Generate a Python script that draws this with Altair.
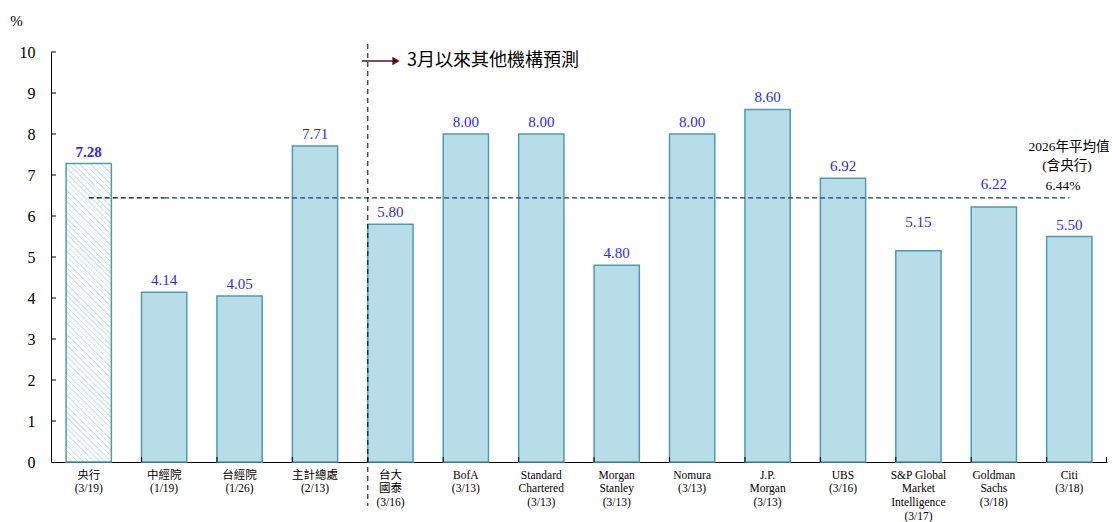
import altair as alt
import pandas as pd

categories = [
    "央行|(3/19)", "中經院|(1/19)", "台經院|(1/26)", "主計總處|(2/13)",
    "台大|國泰|(3/16)", "BofA|(3/13)", "Standard|Chartered|(3/13)",
    "Morgan|Stanley|(3/13)", "Nomura|(3/13)", "J.P.|Morgan|(3/13)",
    "UBS|(3/16)", "S&P Global|Market|Intelligence|(3/17)",
    "Goldman|Sachs|(3/18)", "Citi|(3/18)",
]
values = [7.28, 4.14, 4.05, 7.71, 5.80, 8.00, 8.00, 4.80, 8.00, 8.60, 6.92, 5.15, 6.22, 5.50]
labels = ["7.28", "4.14", "4.05", "7.71", "5.80", "8.00", "8.00", "4.80", "8.00", "8.60", "6.92", "5.15", "6.22", "5.50"]
average = 6.44
y_ticks = [1, 2, 3, 4, 5, 6, 7, 8, 9, 10]
note_lines = ["2026年平均值", "(含央行)", "6.44%"]
arrow_text = "3月以來其他機構預測"

W, H = 1056, 410
SERIF = "Liberation Serif, Noto Sans CJK TC"
CJK = "Noto Sans CJK TC, Liberation Serif"
FILL = "#b7dde8"
EDGE = "#4f9cb1"
BLUE = "#2a2aff"

df = pd.DataFrame({"cat": categories, "value": values, "label": labels})

xscale = alt.Scale(domain=categories, paddingInner=0.4, paddingOuter=0.2)
yscale = alt.Scale(domain=[0, 10])

x_main = alt.X("cat:N", sort=None, scale=xscale,
               axis=alt.Axis(title=None, labelAngle=0, ticks=False, domainColor="black",
                             labelExpr="split(datum.label, '|')", labelFont=SERIF,
                             labelFontSize=11.5, labelColor="black", labelBaseline="top",
                             labelLineHeight=13.8, labelPadding=7, labelLimit=200))
y_main = alt.Y("value:Q", scale=yscale,
               axis=alt.Axis(title="%", titleAngle=0, titleX=-35, titleY=-32,
                             titleAlign="center", titleBaseline="middle", titleFont=SERIF,
                             titleFontSize=15, titleFontWeight="normal", titleColor="black",
                             values=[0, 1, 2, 3, 4, 5, 6, 7, 8, 9, 10], ticks=False,
                             grid=False, domainColor="black", labelFont=SERIF,
                             labelFontSize=16, labelColor="black", labelPadding=16))

# hatched gradient for the first (central bank) bar
w_bar, h_bar = 45.2, 7.28 * 41.0
k = (w_bar + h_bar) / (w_bar ** 2 + h_bar ** 2)
n = 62
stops = []
for i in range(n):
    stops += [alt.GradientStop(offset=i / n, color="#d2ebf2"),
              alt.GradientStop(offset=(i + 0.3) / n, color="#d2ebf2"),
              alt.GradientStop(offset=(i + 0.3) / n, color="#ffffff"),
              alt.GradientStop(offset=(i + 1) / n, color="#ffffff")]
hatch = alt.Gradient(gradient="linear", stops=stops, x1=0, y1=1,
                     x2=w_bar * k, y2=1 - h_bar * k)

base = alt.Chart(df)

bars = base.transform_filter(alt.datum.cat != categories[0]).mark_bar(
    fill=FILL, stroke=EDGE, strokeWidth=1.5
).encode(x=x_main, y=y_main)

bar0 = base.transform_filter(alt.datum.cat == categories[0]).mark_bar(
    fill=hatch, stroke=EDGE, strokeWidth=1.5
).encode(x=alt.X("cat:N", sort=None, scale=xscale), y=alt.Y("value:Q", scale=yscale))

def lbl(filt, dy, bold=False):
    return base.transform_filter(filt).mark_text(
        baseline="middle", dy=dy, font=SERIF, fontSize=15, color=BLUE,
        fontWeight="bold" if bold else "normal"
    ).encode(x=alt.X("cat:N", sort=None, scale=xscale),
             y=alt.Y("value:Q", scale=yscale), text="label:N")

lbl_first = lbl(alt.datum.cat == categories[0], -12, bold=True)
lbl_rest = lbl(alt.FieldOneOfPredicate(field="cat", oneOf=categories[1:11] + [categories[13]]), -12)
lbl_515 = lbl(alt.datum.cat == categories[11], -29)
lbl_622 = lbl(alt.datum.cat == categories[12], -23)

avg_a = alt.Chart(pd.DataFrame({"cat": categories[0:2], "value": [average] * 2})).mark_line(
    color="black", strokeDash=[5, 3], strokeWidth=1.3
).encode(x=alt.X("cat:N", sort=None, scale=xscale), y=alt.Y("value:Q", scale=yscale))
avg_b = alt.Chart(pd.DataFrame({"cat": [categories[1], categories[13]], "value": [average] * 2})).mark_line(
    color="#1f3a78", strokeDash=[5, 3], strokeWidth=1.3
).encode(x=alt.X("cat:N", sort=None, scale=xscale), y=alt.Y("value:Q", scale=yscale))

sep = alt.Chart(pd.DataFrame({"cat": [categories[4]]})).mark_rule(
    color="black", strokeDash=[5, 4], strokeWidth=1
).encode(x=alt.X("cat:N", sort=None, scale=xscale, bandPosition=0),
         y=alt.value(-8), y2=alt.value(H + 44))

ytick = alt.Chart(pd.DataFrame({"t": y_ticks})).mark_rule(color="black", strokeWidth=1).encode(
    y=alt.Y("t:Q", scale=yscale), x=alt.value(0), x2=alt.value(5))
xtick = alt.Chart(pd.DataFrame({"cat": categories[1:]})).mark_rule(color="black", strokeWidth=1).encode(
    x=alt.X("cat:N", sort=None, scale=xscale, bandPosition=0), y=alt.value(H), y2=alt.value(H - 5))
xtick_end = alt.Chart(pd.DataFrame({"a": [0]})).mark_rule(color="black", strokeWidth=1).encode(
    x=alt.value(W - 0.5), y=alt.value(H), y2=alt.value(H - 5))

arrow_line = alt.Chart(pd.DataFrame({"a": [0]})).mark_rule(color="#5c1010", strokeWidth=1.5).encode(
    x=alt.value(311), x2=alt.value(342), y=alt.value(9))
arrow_head = alt.Chart(pd.DataFrame({"a": [0]})).mark_point(
    shape="triangle-right", filled=True, color="#5c1010", size=70, opacity=1
).encode(x=alt.value(345), y=alt.value(9))
arrow_lbl = alt.Chart(pd.DataFrame({"t": [arrow_text]})).mark_text(
    align="left", baseline="middle", font=CJK, fontSize=18, color="black"
).encode(x=alt.value(356), y=alt.value(9), text="t:N")

note = alt.Chart(pd.DataFrame({"t": note_lines, "yy": [95, 114, 134], "xx": [1018, 1016, 1012]})).mark_text(
    align="center", baseline="middle", font=SERIF, fontSize=13.5, color="black"
).encode(x=alt.X("xx:Q", scale=None), y=alt.Y("yy:Q", scale=None), text="t:N")

chart = alt.layer(
    bars, bar0, avg_a, avg_b, sep, ytick, xtick, xtick_end,
    lbl_first, lbl_rest, lbl_515, lbl_622, arrow_line, arrow_head, arrow_lbl, note
).properties(
    width=W, height=H,
    autosize=alt.AutoSizeParams(type="none"),
    padding={"left": 51, "top": 52, "right": 5, "bottom": 60},
).configure_view(stroke=None)

chart.save("out.html", embed_options={"renderer": "svg", "actions": False})
